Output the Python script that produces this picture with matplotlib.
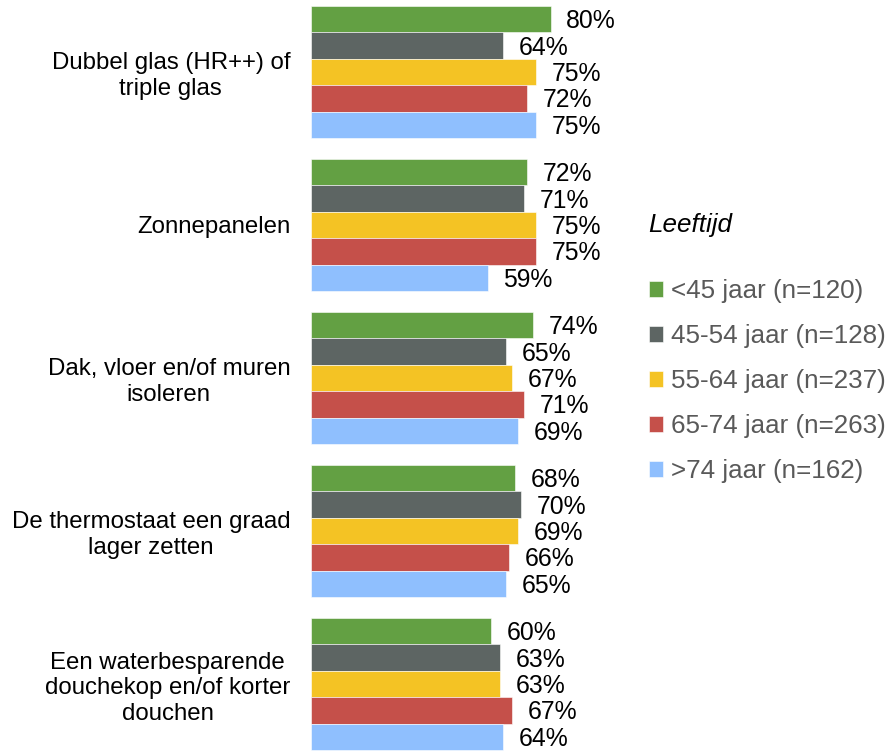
import numpy as np
import matplotlib
matplotlib.use('Agg')
import matplotlib.pyplot as plt

plt.rcParams['font.family'] = ['Liberation Sans', 'DejaVu Sans']

categories = ['Dubbel glas (HR++) of\ntriple glas',
              'Zonnepanelen',
              'Dak, vloer en/of muren\nisoleren',
              'De thermostaat een graad\nlager zetten',
              'Een waterbesparende\ndouchekop en/of korter\ndouchen']
groups = ['<45 jaar (n=120)', '45-54 jaar (n=128)', '55-64 jaar (n=237)',
          '65-74 jaar (n=263)', '>74 jaar (n=162)']
values = [
    [80, 72, 74, 68, 60],   # <45
    [64, 71, 65, 70, 63],   # 45-54
    [75, 75, 67, 69, 63],   # 55-64
    [72, 75, 71, 66, 67],   # 65-74
    [75, 59, 69, 65, 64],   # >74
]
colors = ['#63A043', '#5D6563', '#F4C324', '#C5504A', '#8FBFFE']

fig = plt.figure(figsize=(8.93, 7.54), dpi=100)
ax = fig.add_axes([311 / 893, 0, 300 / 893, 1])

y = np.arange(len(categories))
h = 26.4 / 153
handles = []
for j, (g, vals, c) in enumerate(zip(groups, values, colors)):
    yy = y + (j - 2) * h
    b = ax.barh(yy, vals, height=h, color=c, label=g,
                edgecolor='white', linewidth=0.4)
    # waarde-labels rechts naast de balk
    for yi, v in zip(yy, vals):
        ax.annotate(f'{v}%', (v, yi), xytext=(11, -1.5), textcoords='offset points',
                    fontsize=17.8, color='black', ha='left', va='center',
                    annotation_clip=False)
    handles.append(b)

ax.set_xlim(0, 100)
ax.set_ylim(4 + 70 / 153, -72 / 153)
ax.set_yticks(y)
ax.set_yticklabels(categories, fontsize=17.3, ha='right', multialignment='center')
ax.tick_params(axis='y', length=0, pad=15)
ax.set_xticks([])
for s in ax.spines.values():
    s.set_visible(False)

fig.text(648 / 893, 1 - 225 / 754, 'Leeftijd', fontsize=18.7, style='italic',
         ha='left', va='center')
leg = fig.legend(handles=handles, loc='upper left',
                 bbox_to_anchor=(649 / 893, 1 - 279 / 754), frameon=False,
                 fontsize=18.7, handlelength=0.55, handleheight=0.55,
                 handletextpad=0.3, labelspacing=0.81, borderpad=0,
                 borderaxespad=0)
for t in leg.get_texts():
    t.set_color('#595959')

fig.savefig('out.png', dpi=100)
